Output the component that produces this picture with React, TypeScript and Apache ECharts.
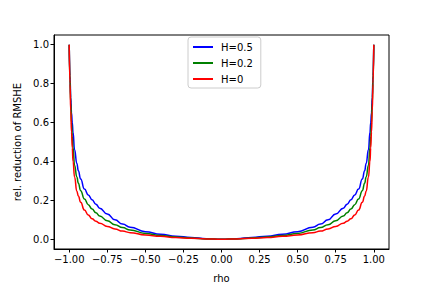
import React, { useEffect, useRef } from "react";
import * as echarts from "echarts";

// |rho| sample points (curves are symmetric in rho)
const rhoAbs = [0, 0.1, 0.2, 0.3, 0.4, 0.5, 0.6, 0.65, 0.7, 0.75, 0.8, 0.825, 0.85, 0.875, 0.9, 0.925, 0.94, 0.95, 0.965, 0.975, 0.98, 0.985, 0.99, 0.995, 1.0];
const h05 = [0, 0.003, 0.009, 0.016, 0.026, 0.039, 0.062, 0.078, 0.1, 0.13, 0.16, 0.18, 0.203, 0.228, 0.258, 0.31, 0.352, 0.39, 0.46, 0.55, 0.6, 0.65, 0.73, 0.84, 1.0];
const h02 = [0, 0.002, 0.007, 0.012, 0.02, 0.03, 0.048, 0.06, 0.075, 0.095, 0.12, 0.136, 0.155, 0.178, 0.207, 0.25, 0.288, 0.32, 0.38, 0.47, 0.53, 0.6, 0.7, 0.82, 1.0];
const h00 = [0, 0.002, 0.005, 0.009, 0.015, 0.022, 0.034, 0.042, 0.053, 0.066, 0.083, 0.093, 0.105, 0.125, 0.15, 0.19, 0.222, 0.247, 0.32, 0.4, 0.47, 0.55, 0.66, 0.8, 1.0];

const seriesNames = ["H=0.5", "H=0.2", "H=0"];
const seriesColors = ["#0000ff", "#008000", "#ff0000"];
const xTicks = [-1, -0.75, -0.5, -0.25, 0, 0.25, 0.5, 0.75, 1];
const yTicks = [0, 0.2, 0.4, 0.6, 0.8, 1.0];

function mirror(vals: number[]): number[][] {
  const pts: number[][] = [];
  for (let i = rhoAbs.length - 1; i > 0; i--) pts.push([-rhoAbs[i], vals[i]]);
  for (let i = 0; i < rhoAbs.length; i++) pts.push([rhoAbs[i], vals[i]]);
  return pts;
}

const FONT = "DejaVu Sans";

export default function App() {
  const ref = useRef<HTMLDivElement>(null);
  useEffect(() => {
    if (!ref.current) return;
    const chart = echarts.init(ref.current, null, { renderer: "svg" });
    const all = [h05, h02, h00];
    chart.setOption({
      animation: false,
      backgroundColor: "#ffffff",
      grid: {
        left: 54,
        right: 43,
        top: 35,
        bottom: 36,
        show: true,
        borderColor: "#000000",
        borderWidth: 1,
        backgroundColor: "transparent",
      },
      legend: {
        orient: "vertical",
        left: 188,
        top: 37,
        padding: [4, 8, 3, 5],
        itemGap: 4,
        itemWidth: 20,
        itemHeight: 2,
        icon: "rect",
        backgroundColor: "#ffffff",
        borderColor: "#cccccc",
        borderWidth: 1,
        borderRadius: 3,
        textStyle: { fontFamily: FONT, fontSize: 10, color: "#000", lineHeight: 12, padding: [0, 0, 0, 3] },
        data: seriesNames,
      },
      xAxis: {
        type: "value",
        min: -1.1,
        max: 1.1,
        name: "rho",
        nameLocation: "middle",
        nameGap: 24,
        nameTextStyle: { fontFamily: FONT, fontSize: 10, color: "#000" },
        splitLine: { show: false },
        axisLine: { show: true, onZero: false, lineStyle: { color: "#000" } },
        axisTick: { show: true, length: 3.5, lineStyle: { color: "#000" }, customValues: xTicks },
        axisLabel: {
          fontFamily: FONT,
          fontSize: 10,
          color: "#000",
          margin: 5,
          customValues: xTicks,
          formatter: (v: number) => v.toFixed(2).replace("-", "\u2212"),
        },
      },
      yAxis: {
        type: "value",
        min: -0.05,
        max: 1.05,
        name: "rel. reduction of RMSHE",
        nameLocation: "middle",
        nameGap: 32,
        nameTextStyle: { fontFamily: FONT, fontSize: 10, color: "#000" },
        splitLine: { show: false },
        axisLine: { show: true, onZero: false, lineStyle: { color: "#000" } },
        axisTick: { show: true, length: 3.5, lineStyle: { color: "#000" }, customValues: yTicks },
        axisLabel: {
          fontFamily: FONT,
          fontSize: 10,
          color: "#000",
          margin: 5,
          customValues: yTicks,
          formatter: (v: number) => v.toFixed(1).replace("-", "\u2212"),
        },
      },
      series: seriesNames.map((name, i) => ({
        name,
        type: "line",
        data: mirror(all[i]),
        showSymbol: false,
        smooth: 0.5,
        smoothMonotone: "x",
        lineStyle: { color: seriesColors[i], width: 1.5 },
        itemStyle: { color: seriesColors[i] },
      })),
    });
    return () => chart.dispose();
  }, []);
  return <div ref={ref} style={{ width: 432, height: 288, position: "fixed", left: 0, top: 0 }} />;
}
